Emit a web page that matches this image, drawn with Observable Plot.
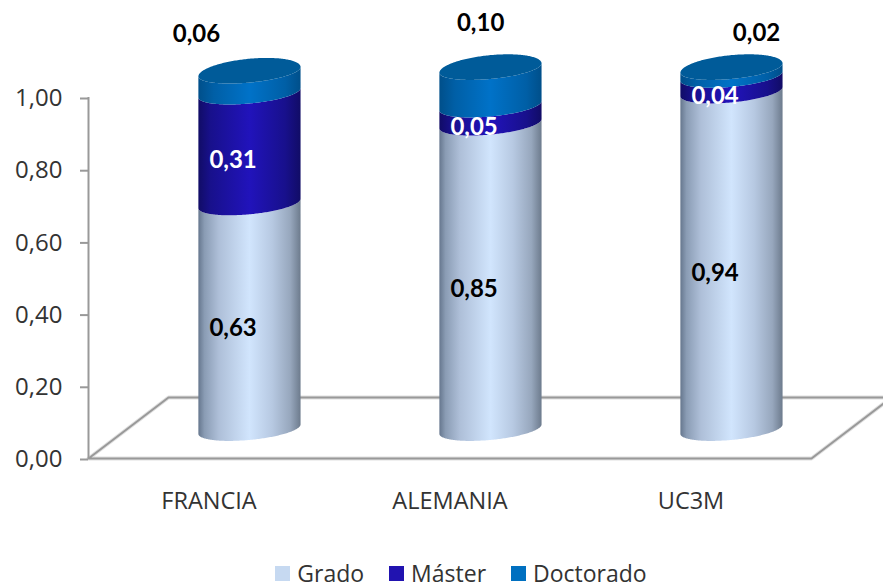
<!DOCTYPE html>
<html><head><meta charset="utf-8">
<script src="https://cdn.jsdelivr.net/npm/d3@7"></script>
<script src="https://cdn.jsdelivr.net/npm/@observablehq/plot@0.6"></script>
<style>
html,body{margin:0;padding:0;background:#fff;overflow:hidden}
#legend{display:flex;justify-content:center;margin-top:12px;padding-left:64px}
#legend>div{margin:0!important;min-height:0}
#legend span{margin-right:25px;color:#333}
#legend svg{margin-right:7px!important}
</style></head><body>
<div id="chart"></div><div id="legend"></div>
<script>
// Data
const categories = ["FRANCIA", "ALEMANIA", "UC3M"];
const series = ["Grado", "Máster", "Doctorado"];
const grado = [0.625, 0.846, 0.935];
const master = [0.307, 0.05, 0.043];
const doctorado = [0.058, 0.104, 0.022];
const yTicks = [0, 0.2, 0.4, 0.6, 0.8, 1];

// Chart geometry, in data units
const depthX = 0.17, depthY = 0.08;          // how far the columns stand inside the floor
const floorX = 0.332, floorY = 0.169;
const halfW = 0.212, rimFront = 0.03, rimBack = 0.036, rimTilt = 0.013;
const doctoradoLabelAt = [[0.448, 1.1745], [1.627, 1.205], [2.772, 1.177]];

const fmt = v => v.toFixed(2).replace(".", ",");
const us = d3.range(0, 121).map(i => Math.sin((i / 120 - 0.5) * Math.PI)); // rim sampling

const stacks = categories.map((c, i) => {
  const cx = i + 0.5 + depthX;
  const s0 = depthY, s1 = s0 + grado[i], s2 = s1 + master[i], s3 = s2 + doctorado[i];
  return {c, i, cx, levels: [s0, s1, s2, s3]};
});
const rim = (level, u, b) => level + rimTilt * u + b * Math.sqrt(Math.max(0, 1 - u * u));

const segments = stacks.flatMap(st => [0, 1, 2].map(k => ({st, k})));
const segMarks = segments.map(({st, k}) => Plot.areaY(us, {
  x: u => st.cx + halfW * u,
  y1: u => rim(st.levels[k], u, -rimFront),
  y2: u => rim(st.levels[k + 1], u, -rimFront),
  fill: `url(#grad${k})`, curve: "linear"
}));
const topMarks = stacks.map(st => Plot.areaY(us, {
  x: u => st.cx + halfW * u,
  y1: u => rim(st.levels[3], u, -rimFront),
  y2: u => rim(st.levels[3], u, rimBack),
  fill: "#005b99", curve: "linear"
}));

const gradStops = [
  [[0, "#66778e"], [0.06, "#8a9cb4"], [0.2, "#aebfd8"], [0.5, "#d1e5fd"], [0.72, "#b7c9e2"], [0.9, "#97a7bd"], [1, "#6d7b8d"]],
  [[0, "#110c66"], [0.12, "#18108c"], [0.5, "#2113bb"], [0.85, "#18108c"], [1, "#110c66"]],
  [[0, "#004f8a"], [0.15, "#005fa6"], [0.5, "#0072c8"], [0.85, "#005fa6"], [1, "#004f8a"]]
];
const defs = () => {
  const d = d3.create("svg:defs");
  gradStops.forEach((stops, k) => {
    const g = d.append("linearGradient").attr("id", `grad${k}`).attr("x1", 0).attr("x2", 1).attr("y1", 0).attr("y2", 0);
    stops.forEach(([o, col]) => g.append("stop").attr("offset", o).attr("stop-color", col));
  });
  return d.node();
};

const labelFont = {fontFamily: "Lato", fontWeight: 700, fontSize: 24, lineAnchor: "middle"};
const plot = Plot.plot({
  width: 883, height: 545,
  marginLeft: 88, marginRight: 72, marginTop: 97, marginBottom: 87,
  style: {fontFamily: "'Open Sans'", background: "#fff", overflow: "visible"},
  x: {type: "linear", domain: [0, 3]},
  y: {domain: [0, 1]},
  marks: [
    defs,
    Plot.line([[0, 0], [floorX, floorY], [3 + floorX, floorY], [3, 0], [0, 0]], {stroke: "#e0e0e0", strokeWidth: 4, strokeLinejoin: "miter"}),
    Plot.line([[0, 0], [floorX, floorY], [3 + floorX, floorY], [3, 0], [0, 0]], {stroke: "#999", strokeWidth: 2, strokeLinejoin: "miter"}),
    Plot.ruleX([0], {y1: 0, y2: 1, stroke: "#999", strokeWidth: 2}),
    Plot.axisY({ticks: yTicks, tickFormat: fmt, tickSize: 8, tickPadding: 18, strokeWidth: 2, stroke: "#999", fill: "#333", fontSize: 24, label: null, dy: 1}),
    Plot.axisX({ticks: categories.map((c, i) => i + 0.5), tickFormat: (d, i) => categories[i], tickSize: 0, tickPadding: 34, fill: "#333", fontSize: 23.5, label: null}),
    ...segMarks,
    ...topMarks,
    Plot.text(stacks, {x: d => d.cx - 0.07, y: d => (d.levels[0] + d.levels[1]) / 2, text: d => fmt(grado[d.i]), dy: 12, fill: "#000", ...labelFont}),
    Plot.text(stacks, {x: d => d.cx - 0.07, y: d => (d.levels[1] + d.levels[2]) / 2, text: d => fmt(master[d.i]), dy: 12, fill: "#fff", ...labelFont}),
    Plot.text(stacks, {x: d => doctoradoLabelAt[d.i][0], y: d => doctoradoLabelAt[d.i][1], text: d => fmt(doctorado[d.i]), fill: "#000", ...labelFont})
  ]
});
document.getElementById("chart").appendChild(plot);

const legend = Plot.legend({
  color: {domain: series, range: ["#c6d9f1", "#2113b0", "#0070c0"]},
  legend: "swatches", swatchSize: 15,
  style: {fontFamily: "'Open Sans'", fontSize: "23px", color: "#333"}
});
document.getElementById("legend").appendChild(legend);
</script>
</body></html>
